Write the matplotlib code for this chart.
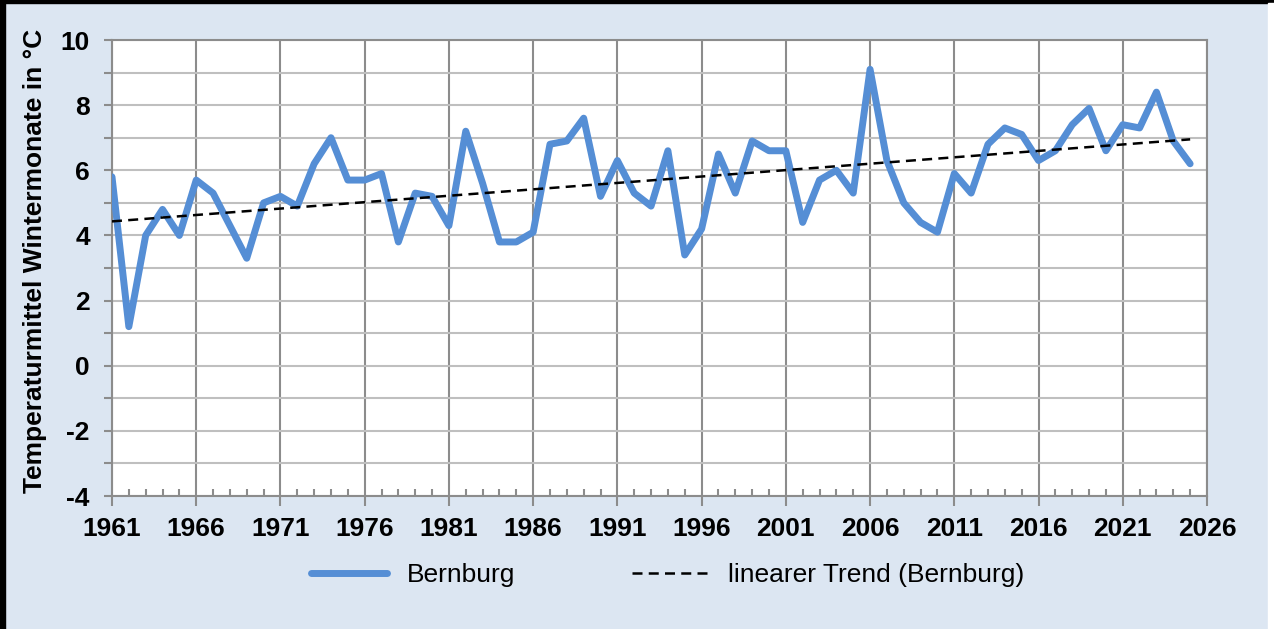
import numpy as np
import matplotlib.pyplot as plt
from matplotlib.patches import Rectangle
from matplotlib.ticker import MultipleLocator

# Winter mean temperature Bernburg
years = np.arange(1961, 2026)
temps = [5.8, 1.2, 4.0, 4.8, 4.0, 5.7, 5.3, 4.3, 3.3, 5.0,
         5.2, 4.9, 6.2, 7.0, 5.7, 5.7, 5.9, 3.8, 5.3, 5.2,
         4.3, 7.2, 5.6, 3.8, 3.8, 4.1, 6.8, 6.9, 7.6, 5.2,
         6.3, 5.3, 4.9, 6.6, 3.4, 4.2, 6.5, 5.3, 6.9, 6.6,
         6.6, 4.4, 5.7, 6.0, 5.3, 9.1, 6.3, 5.0, 4.4, 4.1,
         5.9, 5.3, 6.8, 7.3, 7.1, 6.3, 6.6, 7.4, 7.9, 6.6,
         7.4, 7.3, 8.4, 6.9, 6.2]
xticks = np.arange(1961, 2027, 5)
yticks = np.arange(-4, 11, 2)

plt.rcParams['font.family'] = ['Liberation Sans', 'DejaVu Sans']
plt.rcParams['axes.unicode_minus'] = False

bg = '#dce6f2'
fig = plt.figure(figsize=(12.74, 6.29), dpi=100, facecolor=bg)

# frame of the original graphic
fig.patches.append(Rectangle((0, 0.995), 1, 0.005, transform=fig.transFigure,
                             color='black', zorder=0))
fig.patches.append(Rectangle((0, 0), 0.004, 1, transform=fig.transFigure,
                             color='black', zorder=0))
fig.patches.append(Rectangle((0.9953, 0), 0.0047, 0.995, transform=fig.transFigure,
                             color='white', zorder=0))

ax = fig.add_axes([0.0879, 0.2114, 0.8595, 0.725])
ax.set_facecolor('white')

# trend line
coef = np.polyfit(years, temps, 1)
trend = np.polyval(coef, years)

ax.plot(years, temps, color='#558ed5', lw=5, solid_joinstyle='round',
        solid_capstyle='round', label='Bernburg', zorder=3)
ax.plot(years, trend, color='black', lw=1.8, ls=(0, (4, 2.5)),
        label='linearer Trend (Bernburg)', zorder=4)

ax.set_xlim(1961, 2026)
ax.set_ylim(-4, 10)
ax.set_xticks(xticks)
ax.set_yticks(yticks)
ax.xaxis.set_minor_locator(MultipleLocator(1))
ax.yaxis.set_minor_locator(MultipleLocator(1))

ax.grid(True, which='major', axis='x', color='#8c8c8c', lw=1.5)
ax.grid(True, which='both', axis='y', color='#bfbfbf', lw=1.5)
ax.set_axisbelow(True)

for s in ax.spines.values():
    s.set_color('#8c8c8c')
    s.set_linewidth(1.5)

ax.tick_params(axis='x', which='major', direction='out', length=7, width=1.5,
               color='#8c8c8c', pad=8, labelsize=19)
ax.tick_params(axis='x', which='minor', direction='in', length=5, width=1.5,
               color='#8c8c8c')
ax.tick_params(axis='y', which='both', direction='out', length=6, width=1.5,
               color='#8c8c8c', pad=10, labelsize=19)
for lab in ax.get_xticklabels() + ax.get_yticklabels():
    lab.set_fontweight('bold')

ax.set_ylabel('Temperaturmittel Wintermonate in °C', fontsize=19, fontweight='bold')
ax.yaxis.set_label_coords(-0.059, 0.515)

fig.legend(loc='center', bbox_to_anchor=(0.524, 0.086), ncol=2, frameon=False,
           fontsize=19, handlelength=2.9, columnspacing=4.4, handletextpad=0.75)

fig.savefig('out.png', dpi=100, facecolor=bg)
